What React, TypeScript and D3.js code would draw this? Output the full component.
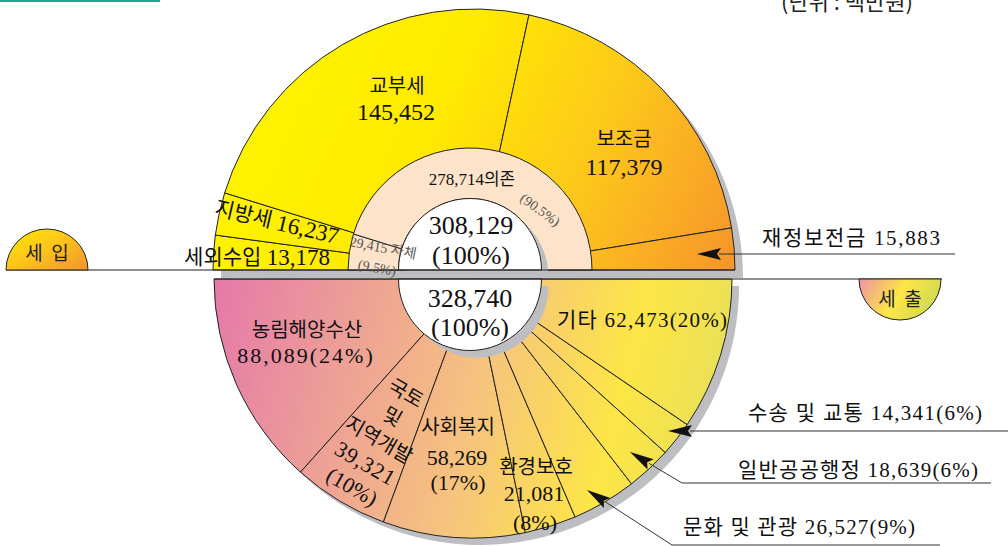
import React from 'react';
import * as d3 from 'd3';

// ---------- data ----------
const revenueCategories = ['세외수입', '지방세', '교부세', '보조금', '재정보전금'];
const revenueValues = [13178, 16237, 145452, 117379, 15883];
const revenueTotal = 308129;
const sourceCategories = ['자체', '의존'];
const sourceValues = [29415, 278714];
const sourceShares = ['9.5%', '90.5%'];
const expenditureCategories = ['농림해양수산', '국토 및 지역개발', '사회복지', '환경보호', '문화 및 관광', '일반공공행정', '수송 및 교통', '기타'];
const expenditureValues = [88089, 39321, 58269, 21081, 26527, 18639, 14341, 62473];
const expenditureShares = ['24%', '10%', '17%', '8%', '9%', '6%', '6%', '20%'];
const expenditureTotal = 328740;
const totalShare = '100%';
const sideLabels = ['세  입', '세  출'];
const unitLabel = '(단위 : 백만원)';

const W = 1008;
const H = 546;
const SERIF = "'Liberation Serif', 'Noto Sans CJK KR', serif";
const SANS = "'Noto Sans CJK KR', sans-serif";
const SHADOW = '#BDBEC2';
const HALF = Math.PI / 2;

function Arrow({ pts, head = 24, hw = 6 }: { pts: [number, number][]; head?: number; hw?: number }) {
  const n = pts.length;
  const [tx, ty] = pts[n - 1];
  const [px, py] = pts[n - 2];
  const len = Math.hypot(tx - px, ty - py);
  const ux = (tx - px) / len, uy = (ty - py) / len;
  const bx = tx - ux * head, by = ty - uy * head;
  const line = pts.slice(0, n - 1).concat([[bx + ux * 2, by + uy * 2]]);
  const tri = [
    [tx, ty],
    [bx - uy * hw, by + ux * hw],
    [bx + ux * 4, by + uy * 4],
    [bx + uy * hw, by - ux * hw],
  ];
  return (
    <g>
      <path d={d3.line()(line as [number, number][]) || ''} fill="none" stroke="#333" strokeWidth={1} />
      <path d={(d3.line()(tri as [number, number][]) || '') + 'Z'} fill="#111" />
    </g>
  );
}

export default function App() {
  const fmt = d3.format(',');
  const up = { cx: 474, cy: 270, r: 261 };
  const lo = { cx: 473, cy: 279, r: 259 };
  const hub = { cx: 470, hole: 71.5, ring: 122 };

  const upPie = d3.pie<number>().sort(null).startAngle(-HALF).endAngle(HALF)(revenueValues);
  const srcPie = d3.pie<number>().sort(null).startAngle(-HALF).endAngle(HALF)(sourceValues);
  const loPie = d3.pie<number>().sort(null).startAngle(3 * HALF).endAngle(HALF)(expenditureValues);

  const outerUp = d3.arc<d3.PieArcDatum<number>>().innerRadius(0).outerRadius(up.r);
  const ringUp = d3.arc<d3.PieArcDatum<number>>().innerRadius(hub.hole).outerRadius(hub.ring);
  const outerLo = d3.arc<d3.PieArcDatum<number>>().innerRadius(0).outerRadius(lo.r);
  const plain = d3.arc<any>();

  const upperHalf = (r: number) => plain({ innerRadius: 0, outerRadius: r, startAngle: -HALF, endAngle: HALF }) || '';
  const lowerHalf = (r: number) => plain({ innerRadius: 0, outerRadius: r, startAngle: HALF, endAngle: 3 * HALF }) || '';

  const t = (x: number, y: number) => `translate(${x},${y})`;

  const exLabel = (i: number) => `${expenditureCategories[i]} ${fmt(expenditureValues[i])}(${expenditureShares[i]})`;

  return (
    <svg width={W} height={H} viewBox={`0 0 ${W} ${H}`} style={{ position: 'absolute', left: 0, top: 0, background: '#fff' }}>
      <defs>
        {/* gradients in the local (centre-translated) coordinates of the pies */}
        <linearGradient id="gUp" gradientUnits="userSpaceOnUse" x1={-174} y1={-210} x2={261} y2={0}>
          <stop offset="0" stopColor="#FFF200" />
          <stop offset="0.3" stopColor="#FFEA00" />
          <stop offset="0.62" stopColor="#FDC91A" />
          <stop offset="1" stopColor="#F6942C" />
        </linearGradient>
        <linearGradient id="gLo" gradientUnits="userSpaceOnUse" x1={-261} y1={21} x2={262} y2={151}>
          <stop offset="0" stopColor="#E57AA9" />
          <stop offset="0.3" stopColor="#EEA593" />
          <stop offset="0.52" stopColor="#F6C37E" />
          <stop offset="0.78" stopColor="#FDE646" />
          <stop offset="1" stopColor="#E4DE5C" />
        </linearGradient>
        <linearGradient id="gIn" x1="0" y1="0" x2="1" y2="1">
          <stop offset="0" stopColor="#FFE800" />
          <stop offset="0.45" stopColor="#FDC81A" />
          <stop offset="1" stopColor="#F3922E" />
        </linearGradient>
        <linearGradient id="gOut" x1="0" y1="0" x2="1" y2="0.3">
          <stop offset="0" stopColor="#EE94A2" />
          <stop offset="0.55" stopColor="#FCE646" />
          <stop offset="1" stopColor="#D4DA52" />
        </linearGradient>
      </defs>

      {/* header */}
      <rect x={0} y={0} width={160} height={2} fill="#1AA597" />
      <text x={847} y={10} textAnchor="middle" fontFamily={SANS} fontSize={22} fill="#222">{unitLabel}</text>

      {/* ===== upper (revenue) ===== */}
      <path d={upperHalf(up.r)} transform={t(up.cx + 8, up.cy + 8)} fill={SHADOW} />
      <g transform={t(up.cx, up.cy)}>
        {upPie.map((d, i) => (
          <path key={i} d={outerUp(d) || ''} fill="url(#gUp)" stroke="#222" strokeWidth={1} />
        ))}
      </g>
      <g transform={t(hub.cx, up.cy)}>
        {srcPie.map((d, i) => (
          <path key={i} d={ringUp(d) || ''} fill="#FDE3C9" stroke="#222" strokeWidth={1} />
        ))}
      </g>
      <path d={upperHalf(hub.hole)} transform={t(hub.cx + 7, up.cy + 7)} fill={SHADOW} />
      <path d={upperHalf(hub.hole)} transform={t(hub.cx, up.cy)} fill="#fff" stroke="#222" strokeWidth={1} />

      {/* ===== lower (expenditure) ===== */}
      <path d={lowerHalf(lo.r)} transform={t(lo.cx + 7, lo.cy + 7)} fill={SHADOW} />
      <g transform={t(lo.cx, lo.cy)}>
        {loPie.map((d, i) => (
          <path key={i} d={outerLo(d) || ''} fill="url(#gLo)" stroke="#222" strokeWidth={1} />
        ))}
      </g>
      <path d={lowerHalf(hub.hole)} transform={t(hub.cx + 7, lo.cy + 7)} fill={SHADOW} />
      <path d={lowerHalf(hub.hole)} transform={t(hub.cx, lo.cy)} fill="#fff" stroke="#222" strokeWidth={1} />

      {/* base lines */}
      <line x1={6} x2={up.cx + up.r} y1={up.cy} y2={up.cy} stroke="#222" strokeWidth={1.2} />
      <line x1={lo.cx - lo.r} x2={942} y1={lo.cy} y2={lo.cy} stroke="#222" strokeWidth={1.2} />

      {/* side badges */}
      <path d={upperHalf(41)} transform={t(47, up.cy)} fill="url(#gIn)" stroke="#222" strokeWidth={1} />
      <text x={47} y={251} textAnchor="middle" dominantBaseline="central" fontFamily={SANS} fontSize={19} fill="#222" xmlSpace="preserve">{sideLabels[0]}</text>
      <path d={lowerHalf(41)} transform={t(900, lo.cy)} fill="url(#gOut)" stroke="#222" strokeWidth={1} />
      <text x={900} y={297} textAnchor="middle" dominantBaseline="central" fontFamily={SANS} fontSize={19} fill="#222" xmlSpace="preserve">{sideLabels[1]}</text>

      {/* ===== upper labels ===== */}
      <g fontFamily={SERIF} fill="#111" textAnchor="middle" dominantBaseline="central">
        <text x={397} y={86} fontSize={20}>{revenueCategories[2]}</text>
        <text x={396} y={112} fontSize={24}>{fmt(revenueValues[2])}</text>
        <text x={624} y={139} fontSize={20}>{revenueCategories[3]}</text>
        <text x={624} y={167} fontSize={24}>{fmt(revenueValues[3])}</text>
        <text transform={`translate(277,222) rotate(13)`} fontSize={21}>
          {revenueCategories[1]} <tspan fontSize={23}>{fmt(revenueValues[1])}</tspan>
        </text>
        <text x={257} y={257} fontSize={21}>
          {revenueCategories[0]} <tspan fontSize={23}>{fmt(revenueValues[0])}</tspan>
        </text>
        <text x={472} y={179} fontSize={17}>{fmt(sourceValues[1])}{sourceCategories[1]}</text>
        <text transform={`translate(540,210) rotate(36)`} fontSize={14} fill="#555">({sourceShares[1]})</text>
        <text transform={`translate(383,248) rotate(11)`} fontSize={14} fill="#555">{fmt(sourceValues[0])} {sourceCategories[0]}</text>
        <text transform={`translate(377,268) rotate(11)`} fontSize={14} fill="#555">({sourceShares[0]})</text>
        <text x={471} y={225} fontSize={26}>{fmt(revenueTotal)}</text>
        <text x={471} y={255} fontSize={26}>({totalShare})</text>
      </g>

      {/* ===== lower labels ===== */}
      <g fontFamily={SERIF} fill="#111" textAnchor="middle" dominantBaseline="central">
        <text x={470} y={298} fontSize={26}>{fmt(expenditureTotal)}</text>
        <text x={470} y={327} fontSize={26}>({totalShare})</text>

        <text x={307} y={330} fontSize={20}>{expenditureCategories[0]}</text>
        <text x={306} y={355} fontSize={22} letterSpacing={2}>{fmt(expenditureValues[0])}({expenditureShares[0]})</text>

        <g transform="translate(379,440) rotate(30)" fontSize={20}>
          <text x={0} y={-54}>{expenditureCategories[1].split(' ')[0]}</text>
          <text x={0} y={-27}>{expenditureCategories[1].split(' ')[1]}</text>
          <text x={0} y={0}>{expenditureCategories[1].split(' ')[2]}</text>
          <text x={0} y={27} fontSize={22} letterSpacing={1}>{fmt(expenditureValues[1])}</text>
          <text x={0} y={54} fontSize={22}>({expenditureShares[1]})</text>
        </g>

        <text x={458} y={427} fontSize={20}>{expenditureCategories[2]}</text>
        <text x={457} y={457} fontSize={22}>{fmt(expenditureValues[2])}</text>
        <text x={458} y={482} fontSize={22}>({expenditureShares[2]})</text>

        <text x={536} y={467} fontSize={20}>{expenditureCategories[3]}</text>
        <text x={534} y={493} fontSize={22}>{fmt(expenditureValues[3])}</text>
        <text x={535} y={522} fontSize={22}>({expenditureShares[3]})</text>

        <text x={642} y={320} fontSize={21} textLength={170} lengthAdjust="spacing">{exLabel(7)}</text>
        <text x={865} y={413} fontSize={21} textLength={234} lengthAdjust="spacing">{exLabel(6)}</text>
        <text x={858} y={470} fontSize={21} textLength={240} lengthAdjust="spacing">{exLabel(5)}</text>
        <text x={799} y={527} fontSize={21} textLength={232} lengthAdjust="spacing">{exLabel(4)}</text>
        <text x={851} y={238} fontSize={21} textLength={178} lengthAdjust="spacing">{revenueCategories[4]}  {fmt(revenueValues[4])}</text>
      </g>

      {/* leaders */}
      <Arrow pts={[[955, 254], [697, 254]]} />
      <Arrow pts={[[1008, 431], [668, 431]]} />
      <Arrow pts={[[991, 483], [682, 483], [630, 452]]} />
      <Arrow pts={[[940, 545], [672, 545], [587, 490]]} />
    </svg>
  );
}
